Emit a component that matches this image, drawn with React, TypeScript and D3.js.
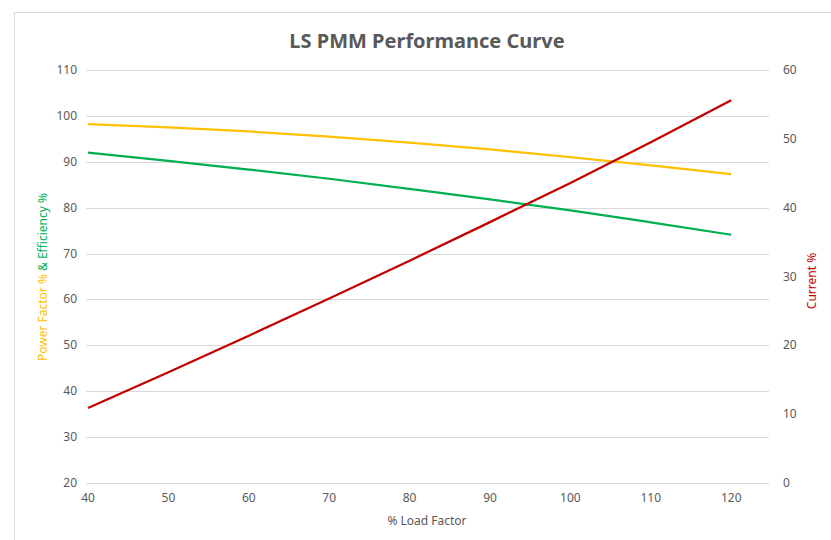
import React, { useEffect, useRef } from 'react';
import * as d3 from 'd3';

// % load factor points
const loadFactor = [40, 50, 60, 70, 80, 90, 100, 110, 120];
// left axis series
const powerFactor = [98.2, 97.5, 96.6, 95.5, 94.2, 92.7, 91.0, 89.2, 87.3];
const efficiency = [92.0, 90.2, 88.3, 86.3, 84.1, 81.8, 79.4, 76.8, 74.1];
// right axis series
const current = [10.9, 16.1, 21.4, 26.8, 32.3, 37.9, 43.6, 49.5, 55.6];

const xTicks = [40, 50, 60, 70, 80, 90, 100, 110, 120];
const leftTicks = [20, 30, 40, 50, 60, 70, 80, 90, 100, 110];
const rightTicks = [0, 10, 20, 30, 40, 50, 60];

const FONT = "'Noto Sans', 'Open Sans', sans-serif";

const App = () => {
  const svgRef = useRef<SVGSVGElement>(null);

  useEffect(() => {
    const svg = d3.select(svgRef.current);
    svg.selectAll('*').remove();

    const W = 831, H = 540;
    const plot = { left: 86, right: 769, top: 70, bottom: 483 };

    svg.attr('width', W).attr('height', H);

    // chart frame (runs off the right/bottom edge like the screenshot)
    svg.append('rect')
      .attr('x', 14.5).attr('y', 12.5)
      .attr('width', W).attr('height', H)
      .attr('fill', '#fff')
      .attr('stroke', '#d9d9d9');

    const x = d3.scaleLinear().domain([39.75, 124.7]).range([plot.left, plot.right]);
    const yL = d3.scaleLinear().domain([20, 110]).range([plot.bottom, plot.top]);
    const yR = d3.scaleLinear().domain([0, 60]).range([plot.bottom, plot.top]);

    // gridlines
    svg.append('g')
      .selectAll('line')
      .data(leftTicks)
      .join('line')
      .attr('x1', plot.left).attr('x2', plot.right)
      .attr('y1', d => Math.round(yL(d)) + 0.5)
      .attr('y2', d => Math.round(yL(d)) + 0.5)
      .attr('stroke', '#d9d9d9')
      .attr('stroke-width', 1);

    // left tick labels
    svg.append('g')
      .selectAll('text')
      .data(leftTicks)
      .join('text')
      .attr('x', 77).attr('y', d => yL(d) + 4)
      .attr('text-anchor', 'end')
      .style('font-family', FONT).style('font-size', '12px')
      .style('fill', '#595959')
      .text(d => d);

    // right tick labels
    svg.append('g')
      .selectAll('text')
      .data(rightTicks)
      .join('text')
      .attr('x', 783).attr('y', d => yR(d) + 4)
      .attr('text-anchor', 'start')
      .style('font-family', FONT).style('font-size', '12px')
      .style('fill', '#595959')
      .text(d => d);

    // x tick labels
    svg.append('g')
      .selectAll('text')
      .data(xTicks)
      .join('text')
      .attr('x', d => x(d)).attr('y', 502)
      .attr('text-anchor', 'middle')
      .style('font-family', FONT).style('font-size', '12px')
      .style('fill', '#595959')
      .text(d => d);

    const pts = (vals: number[]) => loadFactor.map((lf, i) => [lf, vals[i]] as [number, number]);

    const lineL = d3.line<[number, number]>()
      .x(d => x(d[0])).y(d => yL(d[1]))
      .curve(d3.curveMonotoneX);
    const lineR = d3.line<[number, number]>()
      .x(d => x(d[0])).y(d => yR(d[1]))
      .curve(d3.curveMonotoneX);

    svg.append('path')
      .datum(pts(powerFactor))
      .attr('fill', 'none').attr('stroke', '#FFC000').attr('stroke-width', 2.25)
      .attr('d', lineL);

    svg.append('path')
      .datum(pts(efficiency))
      .attr('fill', 'none').attr('stroke', '#00B050').attr('stroke-width', 2.25)
      .attr('d', lineL);

    svg.append('path')
      .datum(pts(current))
      .attr('fill', 'none').attr('stroke', '#C00000').attr('stroke-width', 2.25)
      .attr('d', lineR);

    // title
    svg.append('text')
      .attr('x', 427).attr('y', 48)
      .attr('text-anchor', 'middle')
      .style('font-family', FONT).style('font-size', '20px').style('font-weight', 'bold')
      .style('fill', '#595959')
      .text('LS PMM Performance Curve');

    // x axis title
    svg.append('text')
      .attr('x', 427).attr('y', 525)
      .attr('text-anchor', 'middle')
      .style('font-family', FONT).style('font-size', '12px')
      .style('fill', '#595959')
      .text('% Load Factor');

    // left axis title, two colours
    const lt = svg.append('text')
      .attr('transform', `translate(47, 277) rotate(-90)`)
      .attr('text-anchor', 'middle')
      .style('font-family', FONT).style('font-size', '12px');
    lt.append('tspan').style('fill', '#FFC000').text('Power Factor % ');
    lt.append('tspan').style('fill', '#00B050').text('& Efficiency %');

    // right axis title
    svg.append('text')
      .attr('transform', `translate(816, 281) rotate(-90)`)
      .attr('text-anchor', 'middle')
      .style('font-family', FONT).style('font-size', '12px')
      .style('fill', '#C00000')
      .text('Current %');
  }, []);

  return <svg ref={svgRef} style={{ position: 'absolute', left: 0, top: 0, display: 'block' }}></svg>;
};

export default App;
